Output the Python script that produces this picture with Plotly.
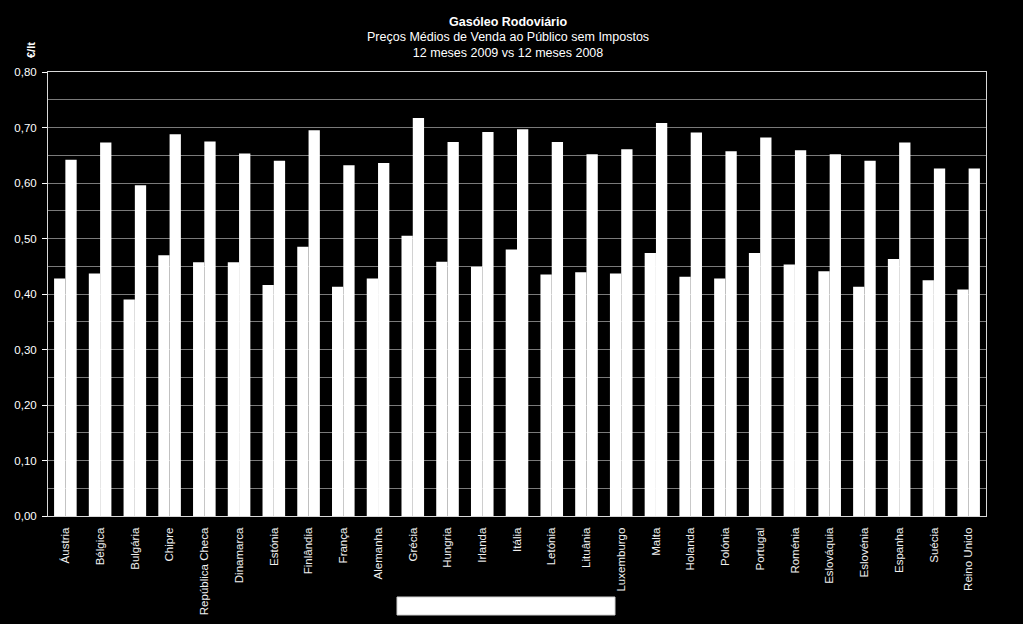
import plotly.graph_objects as go

countries = ["Áustria", "Bélgica", "Bulgária", "Chipre", "República Checa", "Dinamarca",
             "Estónia", "Finlândia", "França", "Alemanha", "Grécia", "Hungria", "Irlanda",
             "Itália", "Letónia", "Lituânia", "Luxemburgo", "Malta", "Holanda", "Polónia",
             "Portugal", "Roménia", "Eslováquia", "Eslovénia", "Espanha", "Suécia", "Reino Unido"]

prices_2009 = [0.428, 0.437, 0.390, 0.470, 0.457, 0.457, 0.416, 0.485, 0.413, 0.428,
               0.505, 0.458, 0.449, 0.480, 0.435, 0.439, 0.437, 0.474, 0.431, 0.428,
               0.474, 0.453, 0.441, 0.413, 0.463, 0.425, 0.408]

prices_2008 = [0.642, 0.673, 0.596, 0.688, 0.675, 0.653, 0.640, 0.695, 0.632, 0.636,
               0.717, 0.674, 0.692, 0.697, 0.674, 0.652, 0.661, 0.708, 0.691, 0.657,
               0.682, 0.659, 0.652, 0.640, 0.673, 0.626, 0.626]

font_family = "Liberation Sans, Arial, sans-serif"

fig = go.Figure()
fig.add_trace(go.Bar(name="12 meses 2009", x=countries, y=prices_2009,
                     marker=dict(color="white", line=dict(width=0))))
fig.add_trace(go.Bar(name="12 meses 2008", x=countries, y=prices_2008,
                     marker=dict(color="white", line=dict(width=0))))

fig.update_layout(
    width=1023, height=624,
    paper_bgcolor="black", plot_bgcolor="black",
    margin=dict(l=48, r=37, t=72, b=108),
    barmode="group", bargap=0.35, bargroupgap=0,
    showlegend=False,
    separators=", ",
    font=dict(family=font_family, color="white", size=11),
    xaxis=dict(
        tickangle=-90, tickfont=dict(size=11.5, color="#f0f0f0"),
        showgrid=False, showline=True, linecolor="#d9d9d9", linewidth=1,
        mirror=True, ticks="", ticklen=0, ticklabelstandoff=6, automargin=False,
    ),
    yaxis=dict(
        range=[0, 0.8], dtick=0.1, tickformat=".2f",
        tickfont=dict(size=11.5, color="white"),
        showgrid=True, gridcolor="#7a7a7a", gridwidth=1,
        minor=dict(dtick=0.05, showgrid=True, gridcolor="#7a7a7a", gridwidth=1),
        showline=True, linecolor="#d9d9d9", linewidth=1, mirror=True,
        ticks="outside", ticklen=5, tickcolor="white", ticklabelstandoff=3,
        zeroline=False, automargin=False,
    ),
    annotations=[
        dict(text="<b>Gasóleo Rodoviário</b>", x=0.4935, y=22, xref="paper", yref="paper",
             showarrow=False, font=dict(size=12.5, color="white")),
        dict(text="Preços Médios de Venda ao Público sem Impostos<br>12 meses 2009 vs 12 meses 2008",
             x=0.4935, y=1, xref="paper", yref="paper", showarrow=False,
             font=dict(size=12.5, color="white")),
        dict(text="<b>€/lt</b>", textangle=-90, x=30, y=50, xref="paper", yref="paper",
             showarrow=False, font=dict(size=11, color="white")),
    ],
)

W, H = 1023, 624
l, r, t, b = 48, 37, 72, 108
pw, ph = W - l - r, H - t - b

def px_x(x):
    return (x - l) / pw

def px_y(y):
    return (H - b - y) / ph

anns = list(fig.layout.annotations)
anns[0].update(x=px_x(508), y=px_y(22), yanchor="middle", xanchor="center")
anns[1].update(x=px_x(508), y=px_y(45), yanchor="middle", xanchor="center")
anns[2].update(x=px_x(31), y=px_y(50), yanchor="middle", xanchor="center")
fig.update_layout(annotations=anns)

# empty white legend box
fig.add_shape(type="rect", xref="paper", yref="paper",
              x0=px_x(397), x1=px_x(615), y0=px_y(615), y1=px_y(597),
              fillcolor="white", line=dict(color="#d0d0d0", width=1))

fig.write_html("out.html")
